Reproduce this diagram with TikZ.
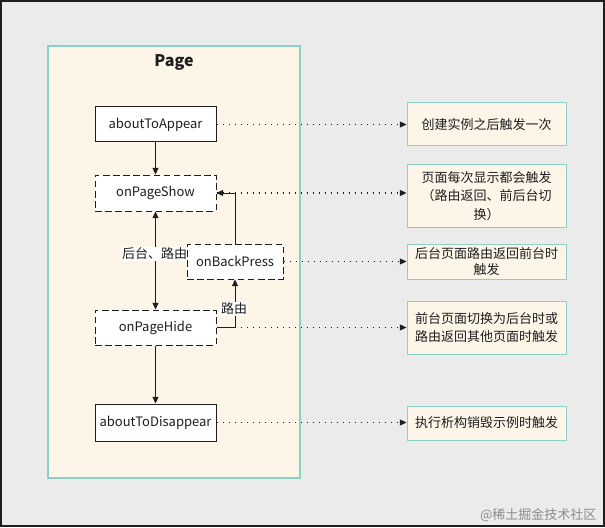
\documentclass[tikz,border=0pt]{standalone}
\usepackage{fontspec}
\setmainfont{Noto Sans CJK SC}
\usetikzlibrary{arrows.meta}
\definecolor{bggray}{HTML}{EBEBEB}
\definecolor{cream}{HTML}{FDF5E8}
\definecolor{tealb}{HTML}{8CCFC4}
\definecolor{inkc}{HTML}{1E1E1E}
\tikzset{
  lifebox/.style={draw=inkc, line width=0.75pt, fill=white, inner sep=0pt,
    font=\fontsize{9.75pt}{12pt}\selectfont, text=inkc},
  solidbox/.style={lifebox},
  dashbox/.style={lifebox, dash pattern=on 5pt off 2.6pt},
  notebox/.style={draw=tealb, line width=0.75pt, fill=cream, inner sep=0pt,
    minimum width=119.25pt, align=center,
    font=\fontsize{9.75pt}{14pt}\selectfont, text=inkc},
  flow/.style={draw=inkc, line width=0.75pt, -{Triangle[length=5pt,width=4.5pt]}},
  dotlink/.style={draw=inkc, line width=0.8pt, dash pattern=on 1.2pt off 3.3pt,
    -{Triangle[length=5pt,width=4.5pt]}},
  lbl/.style={fill=white, inner sep=1pt, font=\fontsize{9.75pt}{12pt}\selectfont, text=inkc},
}
\begin{document}
\begin{tikzpicture}[x=0.75pt,y=-0.75pt]
\useasboundingbox (0,0) rectangle (605,527);
\fill[bggray] (0,0) rectangle (605,527);
\draw[inkc, line width=1pt] (1,1) rectangle (604,526);
% page container
\draw[tealb, line width=0.9pt, fill=cream] (48,46) rectangle (300,478);
\node[font=\bfseries\fontsize{12pt}{14pt}\selectfont, text=inkc] (title) at (174,62.5) {Page};
% lifecycle nodes
\node[solidbox, minimum width=90.75pt, minimum height=26.25pt] (ata) at (155.5,124.5) {aboutToAppear};
\node[dashbox, minimum width=90.75pt, minimum height=27pt] (ops) at (155.5,193) {onPageShow};
\node[dashbox, minimum width=90.75pt, minimum height=26.25pt] (oph) at (155.5,327.5) {onPageHide};
\node[solidbox, minimum width=90.75pt, minimum height=27.75pt] (atd) at (155.5,422.5) {aboutToDisappear};
% connectors
\draw[flow] (ata) -- (ops);
\draw[flow] (oph) -- (atd);
\draw[draw=inkc, line width=0.75pt, {Triangle[length=5pt,width=4.5pt]}-{Triangle[length=5pt,width=4.5pt]}] (ops) -- (oph);
\node[lbl] (lab1) at (154.7,254) {后台、路由};
\node[dashbox, minimum width=72pt, minimum height=26.25pt] (obp) at (235,261.5) {onBackPress};
\draw[flow] (obp.north) |- (ops.east);
\draw[flow] (oph.east) -| (obp.south);
\node[lbl] (lab2) at (234,309) {路由};
% notes
\node[notebox, minimum height=32.25pt] (r1) at (486.5,124.5) {创建实例之后触发一次};
\node[notebox, minimum height=46.5pt] (r2) at (486.5,196) {页面每次显示都会触发\\（路由返回、前后台切\\换）};
\node[notebox, minimum height=26.25pt, font=\fontsize{9.75pt}{12pt}\selectfont] (r3) at (486.5,261.5) {后台页面路由返回前台时\\触发};
\node[notebox, minimum height=39.75pt, font=\fontsize{9.75pt}{13pt}\selectfont] (r4) at (486.5,327.5) {前台页面切换为后台时或\\路由返回其他页面时触发};
\node[notebox, minimum height=25.5pt] (r5) at (486.5,423) {执行析构销毁示例时触发};
% dotted links
\draw[dotlink] (ata.east) -- (ata.east -| r1.west);
\draw[dotlink] (ops.east) -- (ops.east -| r2.west);
\draw[dotlink] (obp.east) -- (obp.east -| r3.west);
\draw[dotlink] (oph.east) -- (oph.east -| r4.west);
\draw[dotlink] (atd.east) -- (atd.east -| r5.west);
% watermark
\node[anchor=east, text=black!45, font=\fontsize{9.75pt}{12pt}\selectfont] (wm) at (601,515) {@稀土掘金技术社区};
\end{tikzpicture}
\end{document}
